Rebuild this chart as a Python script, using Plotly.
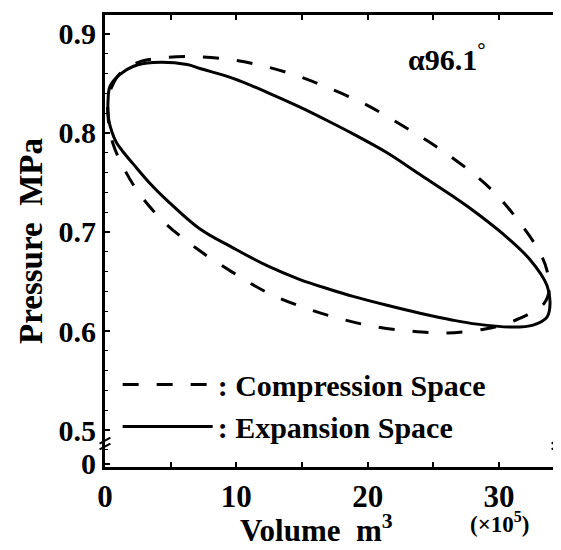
import plotly.graph_objects as go

# Compression space (dashed) P-V loop
comp_x = [0.23, 0.53, 1.14, 2.28, 3.81, 6.25, 8.99, 11.58, 14.32, 16.91, 19.80, 22.70,
          25.36, 28.03, 29.86, 31.84, 33.13, 33.66, 33.82, 33.44, 32.52, 31.61, 30.46,
          28.94, 26.05, 23.23, 20.34, 17.75, 15.08, 12.34, 9.75, 7.01, 4.42, 2.44,
          1.14, 0.61, 0.38, 0.23, 0.23]
comp_y = [0.834, 0.847, 0.860, 0.870, 0.875, 0.877, 0.875, 0.869, 0.859, 0.846, 0.829, 0.807,
          0.785, 0.759, 0.737, 0.705, 0.679, 0.661, 0.641, 0.628, 0.619, 0.613, 0.607,
          0.602, 0.598, 0.600, 0.605, 0.613, 0.624, 0.639, 0.659, 0.683, 0.711, 0.742,
          0.772, 0.789, 0.802, 0.817, 0.834]

# Expansion space (solid) P-V loop
exp_x = [0.23, 0.38, 1.14, 2.13, 3.66, 6.25, 7.24, 9.75, 12.34, 14.85, 17.14, 18.89,
         21.48, 23.99, 26.50, 27.80, 30.31, 32.37, 33.66, 33.89, 33.66, 32.60, 31.07,
         28.33, 26.50, 23.99, 21.48, 18.89, 17.14, 14.85, 12.34, 9.75, 7.24, 4.72,
         3.43, 2.13, 1.37, 0.84, 0.53, 0.30, 0.23, 0.23]
exp_y = [0.832, 0.847, 0.859, 0.867, 0.871, 0.869, 0.865, 0.855, 0.841, 0.826, 0.811, 0.799,
         0.780, 0.758, 0.736, 0.724, 0.698, 0.672, 0.646, 0.628, 0.614, 0.606, 0.604,
         0.607, 0.611, 0.618, 0.626, 0.635, 0.642, 0.652, 0.666, 0.684, 0.703, 0.732,
         0.749, 0.769, 0.781, 0.791, 0.801, 0.812, 0.822, 0.832]

x_tick_vals = [0, 5, 10, 15, 20, 25, 30]
x_tick_text = ["0", "", "10", "", "20", "", "30"]
y_tick_vals = [0.466, 0.5, 0.6, 0.7, 0.8, 0.9]
y_tick_text = ["0", "0.5", "0.6", "0.7", "0.8", "0.9"]

FONT = "Liberation Serif"

fig = go.Figure()
fig.add_trace(go.Scatter(
    x=comp_x, y=comp_y, mode="lines", name=": Compression Space",
    line=dict(color="black", width=3, dash="16px,18px", shape="spline", smoothing=1.0),
))
fig.add_trace(go.Scatter(
    x=exp_x, y=exp_y, mode="lines", name=": Expansion Space",
    line=dict(color="black", width=3, shape="spline", smoothing=1.0),
))

x_tick_font = dict(family=FONT, size=31, color="black", weight="bold")
y_tick_font = dict(family=FONT, size=30, color="black", weight="bold")

# page body has an 8px margin, so the figure is sized/offset to compensate
fig.update_layout(
    width=553, height=542,
    margin=dict(l=97, r=4, t=5, b=83),
    paper_bgcolor="white", plot_bgcolor="white",
    font=dict(family=FONT, size=28, color="black", weight="bold"),
    showlegend=True,
    legend=dict(
        x=0.028, y=0.240, xanchor="left", yanchor="top",
        bgcolor="rgba(0,0,0,0)", itemwidth=90,
        font=dict(family=FONT, size=30, color="black", weight="bold"),
        tracegroupgap=0,
    ),
    xaxis=dict(
        range=[0, 34.42], showgrid=False, zeroline=False,
        showline=True, linecolor="black", linewidth=3, mirror="ticks",
        ticks="inside", ticklen=5, tickwidth=2, tickcolor="black",
        tickvals=x_tick_vals, ticktext=x_tick_text,
        tickfont=x_tick_font,
    ),
    yaxis=dict(
        range=[0.4628, 0.919], showgrid=False, zeroline=False,
        showline=True, linecolor="black", linewidth=3,
        ticks="inside", ticklen=5, tickwidth=2, tickcolor="black",
        tickvals=y_tick_vals, ticktext=y_tick_text,
        tickfont=y_tick_font,
        minor=dict(ticks="inside", ticklen=3, tickwidth=1, tickcolor="black", dtick=0.02,
                   tick0=0.5),
        title=dict(text="Pressure  MPa", font=dict(family=FONT, size=33, color="black",
                                                   weight="bold"), standoff=6),
    ),
)

# right border (dotted in the original)
fig.add_shape(type="line", xref="paper", yref="paper", x0=1, x1=1, y0=0, y1=1,
              line=dict(color="black", width=3, dash="dot"))

# axis break marks
for xp in (0, 1):
    for yv in (0.4835, 0.4895):
        fig.add_shape(type="line", xref="paper", yref="y",
                      x0=xp - 0.012, x1=xp + 0.012, y0=yv - 0.003, y1=yv + 0.003,
                      line=dict(color="black", width=2))

fig.add_annotation(text="α96.1<sup>°</sup>", xref="paper", yref="paper",
                   x=0.757, y=0.907, xanchor="center", yanchor="middle", showarrow=False,
                   font=dict(family=FONT, size=30, color="black", weight="bold"))
fig.add_annotation(text="Volume  m<sup>3</sup>", xref="paper", yref="paper",
                   x=0.468, y=-0.135, xanchor="center", yanchor="middle", showarrow=False,
                   font=dict(family=FONT, size=31, color="black", weight="bold"))
fig.add_annotation(text="(×10<sup>5</sup>)", xref="paper", yref="paper",
                   x=0.872, y=-0.122, xanchor="center", yanchor="middle", showarrow=False,
                   font=dict(family=FONT, size=23, color="black", weight="bold"))

fig.write_html("out.html")
